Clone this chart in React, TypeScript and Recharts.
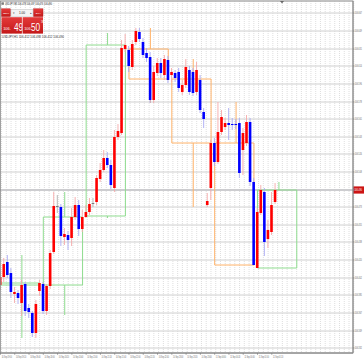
import React from 'react';
import {
  ComposedChart,
  Bar,
  XAxis,
  YAxis,
  CartesianGrid,
  ReferenceArea,
  ReferenceLine,
} from 'recharts';

// USDJPY M5 candles
const opens = [
  106.395, 106.403, 106.418, 106.407, 106.386, 106.387, 106.377, 106.396, 106.372, 106.367,
  106.347, 106.389, 106.396, 106.369, 106.394, 106.428, 106.474, 106.473, 106.443, 106.445,
  106.442, 106.463, 106.475, 106.451, 106.463, 106.468, 106.477, 106.478, 106.501, 106.510,
  106.522, 106.515, 106.492, 106.543, 106.547, 106.631, 106.630, 106.613, 106.638, 106.648,
  106.638, 106.627, 106.623, 106.580, 106.607, 106.617, 106.605, 106.620, 106.605, 106.607,
  106.608, 106.588, 106.595, 106.610, 106.608, 106.588, 106.600, 106.568, 106.475, 106.492,
  106.537, 106.518, 106.548, 106.553, 106.557, 106.556, 106.556, 106.557, 106.530, 106.537,
  106.558, 106.498, 106.412, 106.467, 106.488, 106.441, 106.448, 106.478,
];
const highs = [
  106.408, 106.422, 106.425, 106.412, 106.393, 106.390, 106.400, 106.398, 106.376, 106.369,
  106.380, 106.400, 106.398, 106.396, 106.430, 106.488, 106.485, 106.476, 106.452, 106.449,
  106.472, 106.483, 106.480, 106.470, 106.475, 106.482, 106.482, 106.505, 106.517, 106.530,
  106.528, 106.520, 106.550, 106.556, 106.640, 106.646, 106.634, 106.640, 106.652, 106.652,
  106.642, 106.632, 106.628, 106.614, 106.622, 106.622, 106.625, 106.624, 106.612, 106.610,
  106.612, 106.600, 106.621, 106.614, 106.612, 106.618, 106.605, 106.572, 106.487, 106.540,
  106.542, 106.578, 106.570, 106.562, 106.572, 106.562, 106.561, 106.562, 106.552, 106.565,
  106.562, 106.502, 106.472, 106.495, 106.492, 106.460, 106.488, 106.497,
];
const lows = [
  106.390, 106.398, 106.402, 106.382, 106.377, 106.376, 106.364, 106.364, 106.362, 106.343,
  106.342, 106.384, 106.366, 106.365, 106.391, 106.426, 106.467, 106.434, 106.435, 106.430,
  106.434, 106.460, 106.444, 106.448, 106.462, 106.465, 106.473, 106.475, 106.498, 106.508,
  106.512, 106.491, 106.488, 106.540, 106.545, 106.628, 106.608, 106.610, 106.635, 106.638,
  106.622, 106.618, 106.577, 106.577, 106.604, 106.602, 106.600, 106.597, 106.598, 106.598,
  106.588, 106.585, 106.592, 106.585, 106.584, 106.585, 106.567, 106.552, 106.473, 106.480,
  106.514, 106.516, 106.545, 106.550, 106.540, 106.550, 106.551, 106.502, 106.505, 106.534,
  106.494, 106.415, 106.412, 106.465, 106.424, 106.432, 106.445, 106.476,
];
const closes = [
  106.403, 106.416, 106.405, 106.388, 106.388, 106.382, 106.395, 106.369, 106.368, 106.347,
  106.376, 106.397, 106.369, 106.394, 106.427, 106.474, 106.474, 106.444, 106.446, 106.440,
  106.463, 106.475, 106.451, 106.463, 106.468, 106.476, 106.477, 106.502, 106.510, 106.522,
  106.515, 106.495, 106.543, 106.549, 106.632, 106.635, 106.614, 106.636, 106.649, 106.641,
  106.625, 106.622, 106.580, 106.608, 106.617, 106.607, 106.621, 106.600, 106.608, 106.602,
  106.592, 106.595, 106.613, 106.588, 106.587, 106.610, 106.570, 106.561, 106.479, 106.537,
  106.518, 106.548, 106.563, 106.557, 106.555, 106.555, 106.555, 106.507, 106.547, 106.558,
  106.498, 106.415, 106.468, 106.490, 106.438, 106.450, 106.475, 106.490,
];

// H1 candles drawn as boxes over the M5 bars
const h1Start = [0, 12, 24, 36, 48, 60, 72];
const h1Open = [106.395, 106.395, 106.464, 106.631, 106.601, 106.537, 106.412];
const h1High = [106.425, 106.488, 106.647, 106.652, 106.621, 106.578, 106.498];
const h1Low = [106.342, 106.365, 106.462, 106.577, 106.473, 106.415, 106.412];
const h1Close = [106.397, 106.463, 106.635, 106.601, 106.537, 106.415, 106.490];

const yTicks = [
  106.667, 106.649, 106.631, 106.614, 106.596, 106.578, 106.561, 106.543, 106.526, 106.508,
  106.49, 106.473, 106.455, 106.438, 106.42, 106.402, 106.385, 106.367, 106.349, 106.332,
];
const timeTicks = [0, 4, 8, 12, 16, 20, 24, 28, 32, 36, 40, 44, 48, 52, 56, 60, 64, 68, 72, 76];
const timeLabels = [
  '10 Sep 19:00', '10 Sep 19:20', '10 Sep 19:40', '10 Sep 20:00', '10 Sep 20:20',
  '10 Sep 20:40', '10 Sep 21:00', '10 Sep 21:20', '10 Sep 21:40', '10 Sep 22:00',
  '10 Sep 22:20', '10 Sep 22:40', '10 Sep 23:00', '10 Sep 23:20', '10 Sep 23:40',
  '11 Sep 00:00', '11 Sep 00:20', '11 Sep 00:40', '11 Sep 01:00', '11 Sep 01:20',
];

const bid = 106.49;
const ask = 106.503;

const candles = opens.map((o, i) => ({
  i,
  o,
  h: highs[i],
  l: lows[i],
  c: closes[i],
  range: [lows[i], highs[i]],
}));

// dotted vertical grid, three per time label
const gridX = Array.from({ length: 75 }, (_, k) => (k * 4) / 3 + 0.3);

const FONT = '"Liberation Sans", Arial, sans-serif';

function Candle(props: any) {
  const { x, y, width, height, payload } = props;
  if (payload == null) return null;
  const { o, h, l, c } = payload;
  const top = Math.min(y, y + height);
  const span = Math.abs(height);
  const ppu = h === l ? 0 : span / (h - l);
  const cx = x + width / 2;
  const bodyTop = top + (h - Math.max(o, c)) * ppu;
  const bodyH = Math.max(Math.abs(o - c) * ppu, 0.9);
  const color = c > o ? '#ff0000' : c < o ? '#0000ff' : '#707070';
  const wick = c > o ? '#f6a9a9' : c < o ? '#a9a9f4' : '#b0b0b0';
  return (
    <g>
      <line x1={cx} x2={cx} y1={top} y2={top + span} stroke={wick} strokeWidth={0.9} />
      <rect x={cx - 1.3} y={bodyTop} width={2.6} height={bodyH} fill={color} />
    </g>
  );
}

const TimeTick = (props: any) => {
  const { x, y, payload } = props;
  const idx = timeTicks.indexOf(payload.value);
  return (
    <text x={x + 1.2} y={y + 3.4} fontSize={3} fill="#666" fontFamily={FONT}
      textLength={10.2} lengthAdjust="spacingAndGlyphs">
      {timeLabels[idx]}
    </text>
  );
};

const PriceTick = (props: any) => {
  const { x, y, payload } = props;
  if (Math.abs(payload.value - bid) < 0.003) return null;
  return (
    <text x={x + 0.3} y={y + 1.1} fontSize={3.2} fill="#666" fontFamily={FONT}
      textLength={7.2} lengthAdjust="spacingAndGlyphs">
      {payload.value.toFixed(3)}
    </text>
  );
};

const BidLabel = (props: any) => {
  const vb = props.viewBox;
  if (!vb) return null;
  const rx = vb.x + vb.width;
  return (
    <g>
      <rect x={rx} y={vb.y - 3.6} width={11} height={7.2} fill="#cc1414" />
      <text x={rx + 1.4} y={vb.y + 1.2} fontSize={3.4} fill="#fff" fontFamily={FONT}
        textLength={7.6} lengthAdjust="spacingAndGlyphs">
        {bid.toFixed(3)}
      </text>
    </g>
  );
};

export default function App() {
  const bidStr = bid.toFixed(3);
  const askStr = ask.toFixed(3);
  const last = candles[candles.length - 1];
  return (
    <div style={{ position: 'absolute', left: 0, top: 0, width: 364, height: 364, background: '#fff' }}>
      <ComposedChart width={364} height={364} data={candles} margin={{ top: 1, right: 0, bottom: 0, left: 0 }}>
        <CartesianGrid vertical={false} stroke="#d0d0d0" />
        <CartesianGrid
          horizontal={false}
          verticalValues={gridX}
          stroke="#d6d6d6"
          strokeDasharray="1 1"
          strokeWidth={0.8}
        />
        <XAxis
          dataKey="i"
          type="number"
          domain={[-0.13, 98.75]}
          allowDataOverflow
          ticks={timeTicks}
          interval={0}
          height={11}
          tickSize={1.6}
          tickMargin={0}
          tick={<TimeTick />}
          stroke="#8a8a8a"
        />
        <YAxis
          orientation="right"
          type="number"
          domain={[106.327, 106.679]}
          allowDataOverflow
          ticks={yTicks}
          interval={0}
          width={11}
          tickSize={1.4}
          tickMargin={0}
          tick={<PriceTick />}
          stroke="#8a8a8a"
        />
        <ReferenceLine y={bid} stroke="#c4c4c8" strokeWidth={1.4} label={<BidLabel />} zIndex={-50} />
        {h1Start.map((s, k) => {
          const col = h1Close[k] >= h1Open[k] ? '#8fdc8f' : '#ffb36b';
          const bodyHi = Math.max(h1Open[k], h1Close[k]);
          const bodyLo = Math.min(h1Open[k], h1Close[k]);
          return (
            <React.Fragment key={'h' + s}>
              <ReferenceArea x1={s} x2={s + 11} y1={bodyLo} y2={bodyHi} fill="none" fillOpacity={0}
                stroke={col} strokeWidth={1} ifOverflow="visible" zIndex={-40} />
              {h1High[k] > bodyHi && (
                <ReferenceLine segment={[{ x: s + 6, y: bodyHi }, { x: s + 6, y: h1High[k] }]}
                  stroke={col} strokeWidth={1} zIndex={-40} />
              )}
              {h1Low[k] < bodyLo && (
                <ReferenceLine segment={[{ x: s + 6, y: h1Low[k] }, { x: s + 6, y: bodyLo }]}
                  stroke={col} strokeWidth={1} zIndex={-40} />
              )}
            </React.Fragment>
          );
        })}
        <Bar dataKey="range" barSize={3} shape={(p: any) => <Candle {...p} />} isAnimationActive={false} />
      </ComposedChart>

      <svg width={364} height={364} style={{ position: 'absolute', left: 0, top: 0 }} fontFamily={FONT}>
        <defs>
          <linearGradient id="redbox" x1="0" y1="0" x2="0" y2="1">
            <stop offset="0" stopColor="#e43a3a" />
            <stop offset="1" stopColor="#c41818" />
          </linearGradient>
        </defs>
        <rect x={0.4} y={1} width={352.6} height={352} fill="none" stroke="#8a8a8a" strokeWidth={0.8} />
        <polygon points="280,1 284,1 282,3.4" fill="#666" />

        <rect x={1.4} y={2.3} width={2.5} height={2.5} fill="#7a7a7a" />
        <text x={5} y={5} fontSize={3} fill="#222" textLength={47} lengthAdjust="spacingAndGlyphs">
          {`USDJPY,M5  ${last.o.toFixed(3)} ${last.h.toFixed(3)} ${last.l.toFixed(3)} ${last.c.toFixed(3)}`}
        </text>

        <rect x={1.5} y={8.8} width={9} height={7.8} fill="url(#redbox)" stroke="#b01010" strokeWidth={0.4} />
        <text x={6} y={13.8} fontSize={2.5} fill="#fff" textAnchor="middle">SELL</text>
        <rect x={11} y={9.3} width={22} height={6.9} fill="#f3f3f3" stroke="#b5b5b5" strokeWidth={0.4} />
        <text x={12.6} y={14} fontSize={3} fill="#555">▾</text>
        <text x={22} y={14} fontSize={3.2} fill="#222" textAnchor="middle">1.00</text>
        <text x={29.6} y={14} fontSize={3} fill="#555">▴</text>
        <rect x={33.6} y={8.8} width={9.4} height={7.8} fill="url(#redbox)" stroke="#b01010" strokeWidth={0.4} />
        <text x={38.3} y={13.8} fontSize={2.5} fill="#fff" textAnchor="middle">BUY</text>

        <rect x={1.5} y={17.2} width={20.4} height={16.4} fill="url(#redbox)" />
        <text x={3.2} y={29.6} fontSize={3.2} fill="#fff" textLength={7.6} lengthAdjust="spacingAndGlyphs">
          {bidStr.slice(0, 4)}
        </text>
        <text x={14} y={31.2} fontSize={11} fill="#fff" textLength={9.2} lengthAdjust="spacingAndGlyphs">
          {bidStr.slice(4, 6)}
        </text>
        <text x={24.6} y={23.4} fontSize={3.8} fill="#fff">{bidStr.slice(6)}</text>

        <rect x={22.6} y={17.2} width={20.4} height={16.4} fill="url(#redbox)" />
        <text x={24.2} y={29.6} fontSize={3.2} fill="#fff" textLength={7.6} lengthAdjust="spacingAndGlyphs">
          {askStr.slice(0, 4)}
        </text>
        <text x={31} y={31.2} fontSize={11} fill="#fff" textLength={9.2} lengthAdjust="spacingAndGlyphs">
          {askStr.slice(4, 6)}
        </text>
        <text x={41} y={23.4} fontSize={3.8} fill="#fff">{askStr.slice(6)}</text>

        <text x={2} y={37.8} fontSize={3} fill="#333" textLength={62} lengthAdjust="spacingAndGlyphs">
          {`USDJPY,H1  ${h1Open[6].toFixed(3)} ${h1High[6].toFixed(3)} ${h1Low[6].toFixed(3)} ${h1Close[6].toFixed(3)}`}
        </text>
      </svg>
    </div>
  );
}
